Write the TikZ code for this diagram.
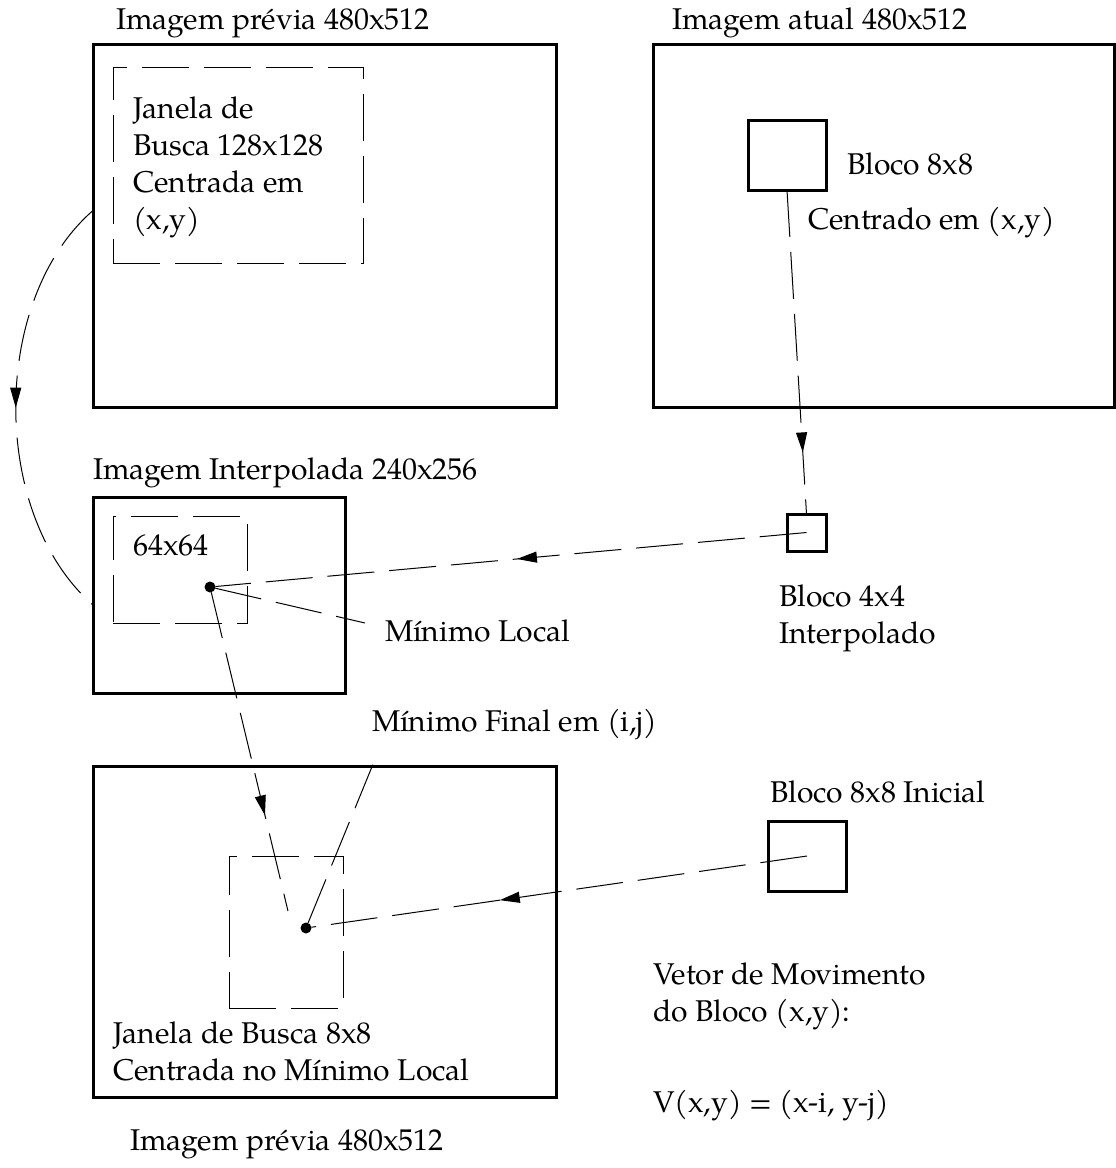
\documentclass[tikz,border=0pt]{standalone}
\usepackage{fontspec}
\setmainfont{TeX Gyre Pagella}
\usetikzlibrary{arrows.meta,decorations.markings}

\begin{document}
\begin{tikzpicture}[x=1pt,y=-1pt,
  every node/.style={font=\fontsize{30}{37}\selectfont, inner sep=0pt, outer sep=0pt},
  lbl/.style={anchor=base west, align=left},
  imgbox/.style={draw, rectangle, line width=3pt, anchor=north west},
  blkbox/.style={draw, rectangle, line width=3pt, anchor=north west},
  winbox/.style={draw, rectangle, line width=1pt, dash pattern=on 47pt off 15pt, anchor=north west},
  dot/.style={circle, fill, minimum size=11pt},
  flow/.style={line width=1pt, dash pattern=on 47pt off 15pt},
  midarrow/.style={postaction={decorate}, decoration={markings,
      mark=at position #1 with {\arrow{Triangle[length=20pt,width=11pt]}}}}
]
\useasboundingbox (0,0) rectangle (1116,1168);

% previous frame with the 128x128 search window
% (multi-line labels are placed by the baseline of their last line)
\node[imgbox, minimum width=463pt, minimum height=363pt] (prev) at (93,44) {};
\node[lbl] (prevtitle) at (116,29) {Imagem prévia 480x512};
\node[winbox, minimum width=250pt, minimum height=196pt] (win128) at (113,67) {};
\node[lbl] (win128txt) at (133,229) {Janela de\\Busca 128x128\\Centrada em\\(x,y)};

% current frame with the 8x8 block
\node[imgbox, minimum width=461pt, minimum height=363pt] (cur) at (653,44) {};
\node[lbl] (curtitle) at (672,29) {Imagem atual 480x512};
\node[blkbox, minimum width=78pt, minimum height=70pt] (blk8) at (748,120) {};
\node[lbl] (blk8txt) at (847,174) {Bloco 8x8};
\node[lbl] (blk8ctr) at (808,229) {Centrado em (x,y)};

% interpolated frame
\node[imgbox, minimum width=252pt, minimum height=196pt] (interp) at (93,497) {};
\node[lbl] (interptitle) at (93,479) {Imagem Interpolada 240x256};
\node[winbox, minimum width=134pt, minimum height=107pt] (win64) at (113,516) {};
\node[lbl] (win64txt) at (133,555) {64x64};
\node[dot] (minloc) at (210,587) {};
\node[lbl] (minloctxt) at (385,641) {Mínimo Local};
\coordinate (minlocend) at (365,623);

% interpolated 4x4 block
\node[blkbox, minimum width=39pt, minimum height=37pt] (blk4) at (787,514) {};
\node[lbl] (blk4txt) at (779,643) {Bloco 4x4\\Interpolado};

% previous frame with the final 8x8 search window
\node[imgbox, minimum width=463pt, minimum height=331pt] (prev2) at (93,766) {};
\node[lbl] (prev2title) at (130,1150) {Imagem prévia 480x512};
\node[winbox, minimum width=114pt, minimum height=152pt] (win8) at (229,856) {};
\node[dot] (minfin) at (306,928) {};
\node[lbl] (minfintxt) at (372,731) {Mínimo Final em (i,j)};
\coordinate (minfinend) at (378,752);
\coordinate (dropend) at (288,911);
\node[lbl] (win8txt) at (113,1080) {Janela de Busca 8x8\\Centrada no Mínimo Local};

% initial 8x8 block
\node[blkbox, minimum width=78pt, minimum height=70pt] (blk8i) at (768,821) {};
\node[lbl] (blk8itxt) at (770,802) {Bloco 8x8 Inicial};

% motion vector
\node[lbl] (vectxt) at (653,1021) {Vetor de Movimento\\do Bloco (x,y):};
\node[lbl] (vecform) at (653,1112) {V(x,y) = (x-i, y-j)};

% connectors
\draw[flow, midarrow=0.5] ([yshift=15pt]prev.west) .. controls (-10,300) and (-10,515) .. ([yshift=-10pt]interp.west);
\draw[flow, midarrow=0.81] (blk8.south) -- (blk4.north);
\draw[flow, midarrow=0.49] (blk4.center) -- (minloc);
\draw[flow] (minloc) -- (minlocend);
\draw[flow, midarrow=0.70] (minloc) -- (dropend);
\draw[flow, midarrow=0.62] (blk8i.center) -- (minfin);
\draw[flow] (minfin) -- (minfinend);
\end{tikzpicture}
\end{document}
